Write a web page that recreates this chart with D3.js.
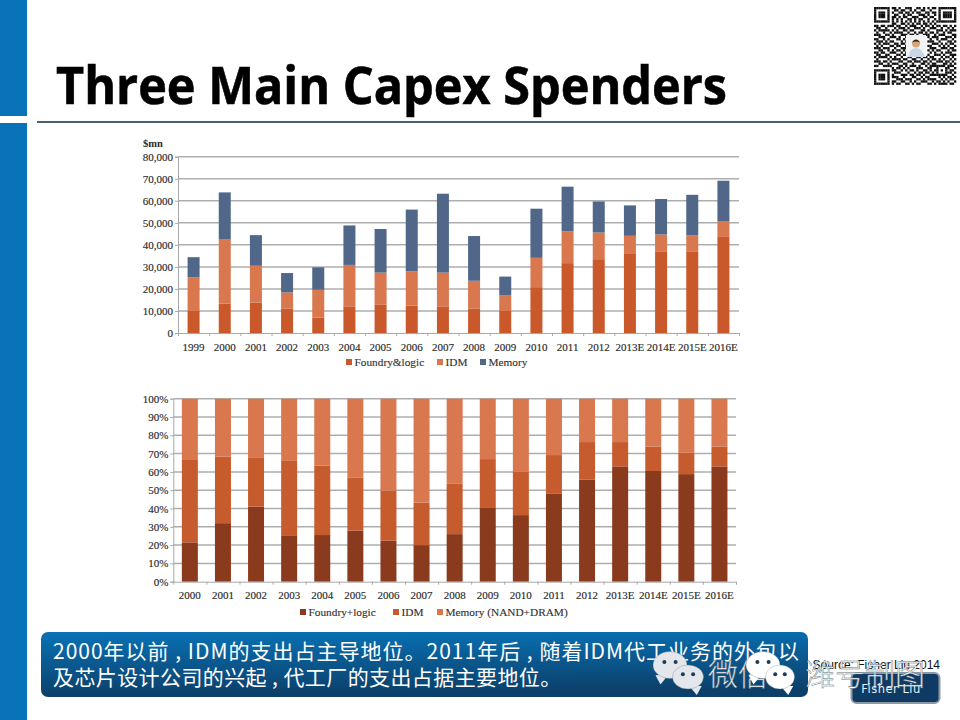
<!DOCTYPE html>
<html>
<head>
<meta charset="utf-8">
<script src="https://cdn.jsdelivr.net/npm/d3@7"></script>
<style>
  html, body { margin: 0; padding: 0; background: #fff; }
  svg { display: block; }
  .grid line { stroke: #aeaeae; stroke-width: 1.5; }
  .axis text { font-family: "Liberation Serif", serif; font-size: 11px; fill: #2b2b2b; stroke: #2b2b2b; stroke-width: 0.15; }
  .axis path, .axis line { stroke: #a8a8a8; }
  .legend text { font-family: "Liberation Serif", serif; font-size: 11.3px; fill: #333; stroke: #333; stroke-width: 0.15; }
</style>
</head>
<body>
<svg id="chart" width="960" height="720"></svg>
<script>
const topYears = ["1999","2000","2001","2002","2003","2004","2005","2006","2007","2008","2009","2010","2011","2012","2013E","2014E","2015E","2016E"];
const topFoundry = [10000,13400,13800,11000,7000,12100,13000,12400,12100,11000,10000,20800,31700,33500,36200,36800,36800,43600];
const topIdm = [15300,29000,16700,7400,12600,18800,14400,15600,15300,12700,7200,13300,14500,12100,7900,7900,7600,7200];
const topMemory = [9100,21400,13900,8800,10200,17900,19800,28000,35800,20300,8400,22300,20200,14100,13800,16100,18300,18300];

const shareYears = topYears.slice(1);
const shareFoundry = [21.5,32,41,25,25.5,28,22.4,20,26,40.3,36.4,48,55.7,63,60.5,58.8,63];
const shareIdm = [45,36.3,27,41,38,29,27.3,23.2,27.5,26.7,23.6,21.2,20.6,13.3,13.3,11.7,10.8];
const shareMemory = [33.5,31.7,32,34,36.5,43,50.3,56.8,46.5,33,40,30.8,23.7,23.7,26.2,29.5,26.2];

const topKeys = ["Foundry&logic","IDM","Memory"];
const shareKeys = ["Foundry+logic","IDM","Memory (NAND+DRAM)"];
const topColors = ["#c9592b","#d9774f","#50678a"];
const shareColors = ["#8a3b1e","#c65b2e","#d9774f"];

const titleText = "Three Main Capex Spenders";
const noteLines = ["2000年以前 , IDM的支出占主导地位。2011年后 , 随着IDM代工业务的外包以", "及芯片设计公司的兴起 , 代工厂的支出占据主要地位。"];
const noteSpacing = [1, 0.4];

// hand read from the qr in the corner, centre is covered by the avatar
const qrRows = [
"1111111011010011100110101011011111111",
"1000001001101100101001100100010000001",
"1011101010011011010110011011010111101",
"1011101001100101100011101001010111101",
"1011101011010110011100110110010111101",
"1000001010101001101011001001010000001",
"1111111010101010101010101010111111111",
"0000000011001101010110110101000000000",
"1101101110110010111001011010110110101",
"0110010001011101001110100111001001010",
"1011111010100110110001101000111010111",
"0100100101111001001011010110100101100",
"1110011010001110110100111001011100011",
"0011100111010011000000001011100011101",
"1100101000110100000000000100101110010",
"0111010110001010000000001110010001101",
"1010111001101100000000000011101010110",
"0101000110110010000000001100010101001",
"1110111001001110000000000111001110110",
"0011001010110100000000001010110001011",
"1101100111001010000000000101001011100",
"0110011000110110000000001001110100111",
"1011110101001001100110110110001011010",
"0100001011110110011001001011010100101",
"1110110100011001101110110100111011010",
"0011001011100110010001101011000110101",
"1100111100011010111010010111111101110",
"0000000010110101000111001100100011001",
"1111111011001010110100110101101010110",
"1000001001110001001011011010100011101",
"1011101010001110110110100111111110010",
"1011101011100100011001011000010101101",
"1011101000111011100110101111001010110",
"1000001011001100101001110010110101001",
"1111111010110011010110001101011110110",
"0000000000000000000000000000000000000"
];

const svg = d3.select("#chart");
const defs = svg.append("defs");
const grad = defs.append("linearGradient").attr("id", "noteFill")
  .attr("x1", 0).attr("y1", 0).attr("x2", 0.12).attr("y2", 1);
grad.append("stop").attr("offset", "0%").attr("stop-color", "#0872b5");
grad.append("stop").attr("offset", "100%").attr("stop-color", "#0c3f69");

// slide frame
svg.append("rect").attr("x", 0).attr("y", 0).attr("width", 27).attr("height", 116).attr("fill", "#0873b8");
svg.append("rect").attr("x", 0).attr("y", 123).attr("width", 27).attr("height", 597).attr("fill", "#0873b8");
svg.append("rect").attr("x", 37).attr("y", 121).attr("width", 923).attr("height", 2).attr("fill", "#4a6070");
svg.append("text").attr("x", 56).attr("y", 104)
  .attr("font-family", "'Open Sans', sans-serif").attr("font-weight", 700).attr("font-size", 52)
  .attr("textLength", 671).attr("lengthAdjust", "spacingAndGlyphs")
  .attr("fill", "#000").attr("stroke", "#000").attr("stroke-width", 0.6).text(titleText);

function stackedBars(opts) {
  const rows = opts.years.map((y, i) => {
    const r = { year: y };
    opts.keys.forEach((k, j) => { r[k] = opts.values[j][i]; });
    return r;
  });
  const x = d3.scaleBand().domain(opts.years).range([opts.left, opts.right])
    .paddingInner(opts.gap).paddingOuter(opts.gap / 2);
  const y = d3.scaleLinear().domain([0, opts.max]).range([opts.bottom, opts.top]);

  const g = svg.append("g");
  g.append("g").attr("class", "grid").selectAll("line")
    .data(opts.ticks.slice(1)).join("line")
    .attr("x1", opts.left).attr("x2", opts.right)
    .attr("y1", d => y(d)).attr("y2", d => y(d));

  const series = d3.stack().keys(opts.keys)(rows);
  g.selectAll("g.layer").data(series).join("g").attr("class", "layer")
    .attr("fill", (d, i) => opts.colors[i])
    .selectAll("rect").data(d => d).join("rect")
    .attr("x", d => x(d.data.year))
    .attr("width", x.bandwidth())
    .attr("y", d => y(d[1]))
    .attr("height", d => y(d[0]) - y(d[1]));

  const yAxis = d3.axisLeft(y).tickValues(opts.ticks).tickFormat(opts.format).tickSize(3).tickPadding(2);
  g.append("g").attr("class", "axis").attr("transform", `translate(${opts.left},0)`).call(yAxis);

  const edges = d3.scaleLinear().domain([0, opts.years.length]).range([opts.left, opts.right]);
  g.append("g").attr("class", "axis").attr("transform", `translate(0,${opts.bottom})`)
    .call(d3.axisBottom(edges).tickValues(d3.range(opts.years.length + 1)).tickFormat("").tickSize(3).tickSizeOuter(0));
  g.append("g").attr("class", "axis labels").attr("transform", `translate(0,${opts.bottom})`)
    .call(d3.axisBottom(x).tickSize(0).tickPadding(opts.labelPad))
    .call(a => a.select(".domain").remove());

  const legend = g.append("g").attr("class", "legend");
  opts.keys.forEach((k, i) => {
    legend.append("rect").attr("x", opts.legendX[i]).attr("y", opts.legendY - 7)
      .attr("width", 6).attr("height", 6).attr("fill", opts.colors[i]);
    legend.append("text").attr("x", opts.legendX[i] + 8.5).attr("y", opts.legendY).text(k);
  });
  return g;
}

const topChart = stackedBars({
  years: topYears, keys: topKeys, colors: topColors,
  values: [topFoundry, topIdm, topMemory],
  left: 178, right: 739, top: 156.7, bottom: 333, max: 80000,
  ticks: d3.range(0, 80001, 10000), format: d3.format(","),
  gap: 0.615, labelPad: 10, legendX: [346, 437, 480], legendY: 366
});
topChart.append("text").attr("x", 143).attr("y", 147)
  .attr("font-family", "'Liberation Serif', serif").attr("font-weight", 700).attr("font-size", 10.5)
  .attr("fill", "#2b2b2b").text("$mn");

stackedBars({
  years: shareYears, keys: shareKeys, colors: shareColors,
  values: [shareFoundry, shareIdm, shareMemory],
  left: 173.3, right: 736, top: 398.7, bottom: 581.7, max: 100,
  ticks: d3.range(0, 101, 10), format: d => d + "%",
  gap: 0.517, labelPad: 10, legendX: [300, 393, 437], legendY: 616
});

// qr code
const qr = svg.append("g").attr("transform", "translate(874,7)");
const cell = 80 / 36;
qrRows.forEach((row, r) => {
  qr.selectAll(null).data(row.split("").map((v, c) => ({ v, c })).filter(d => d.v === "1")).join("rect")
    .attr("x", d => d.c * cell).attr("y", r * cell)
    .attr("width", cell + 0.1).attr("height", cell + 0.1).attr("fill", "#111");
});
qr.append("rect").attr("x", 32).attr("y", 28).attr("width", 20).attr("height", 22).attr("fill", "#f2f3f5");
qr.append("path").attr("d", "M34,50 Q36,41 42,41 Q48,41 51,50 Z").attr("fill", "#c9d6e6");
qr.append("circle").attr("cx", 42).attr("cy", 36.5).attr("r", 4).attr("fill", "#d9a679");
qr.append("path").attr("d", "M38,35.5 Q42,29.5 46,35.5 Q42,33.5 38,35.5 Z").attr("fill", "#2a2320");

// note box
svg.append("rect").attr("x", 41).attr("y", 632).attr("width", 767).attr("height", 65).attr("rx", 7)
  .attr("fill", "url(#noteFill)");
noteLines.forEach((t, i) => {
  svg.append("text").attr("x", 53).attr("y", 659 + i * 26)
    .attr("font-family", "'Noto Sans CJK SC', sans-serif").attr("font-size", 21)
    .attr("letter-spacing", noteSpacing[i])
    .attr("fill", "#fff").text(t);
});

// source line and author badge
svg.append("text").attr("x", 940).attr("y", 669).attr("text-anchor", "end")
  .attr("font-family", "'Liberation Sans', sans-serif").attr("font-size", 12).attr("fill", "#111")
  .text("Source: Fisher Liu 2014");
svg.append("rect").attr("x", 851.5).attr("y", 673).attr("width", 88).attr("height", 30).attr("rx", 5)
  .attr("fill", "#0e3a63").attr("stroke", "#8b99a6").attr("stroke-width", 2);

// wechat watermark
function bubble(cx, cy, rx, ry, tailDir, fill) {
  const g = svg.append("g");
  const tx = cx + tailDir * rx * 0.5;
  g.append("path")
    .attr("d", `M${tx - tailDir * 7},${cy + ry * 0.7} L${tx + tailDir * 1},${cy + ry + 6} L${tx + tailDir * 6},${cy + ry * 0.75} Z`)
    .attr("fill", fill);
  g.append("ellipse").attr("cx", cx).attr("cy", cy).attr("rx", rx).attr("ry", ry)
    .attr("fill", fill).attr("stroke", "#5f6f7d").attr("stroke-width", 0.6).attr("stroke-opacity", 0.5);
  [-0.33, 0.33].forEach(o => {
    g.append("circle").attr("cx", cx + o * rx).attr("cy", cy - ry * 0.22).attr("r", 2).attr("fill", "#1d3a57");
  });
}
function watermark(x, t) {
  svg.append("text").attr("x", x).attr("y", 685)
    .attr("font-family", "'Noto Sans CJK SC', sans-serif").attr("font-weight", 300).attr("font-size", 30)
    .attr("fill", "#fff").attr("stroke", "#66727c").attr("stroke-width", 0.45).text(t);
}
watermark(708, "微信");
watermark(805, "潍号制图");
bubble(670, 665, 17, 13.5, -1, "#e3e7eb");
bubble(688, 677, 15.5, 12, 1, "#e3e7eb");
bubble(763, 665, 17, 13.5, -1, "#fff");
bubble(780, 677, 14.5, 12, 1, "#fff");

svg.append("text").attr("x", 891).attr("y", 692.5).attr("text-anchor", "middle")
  .attr("font-family", "'DejaVu Sans', sans-serif").attr("font-size", 11.5).attr("letter-spacing", 0.5)
  .attr("fill", "#e8eef4").text("Fisher Liu");
</script>
</body>
</html>
